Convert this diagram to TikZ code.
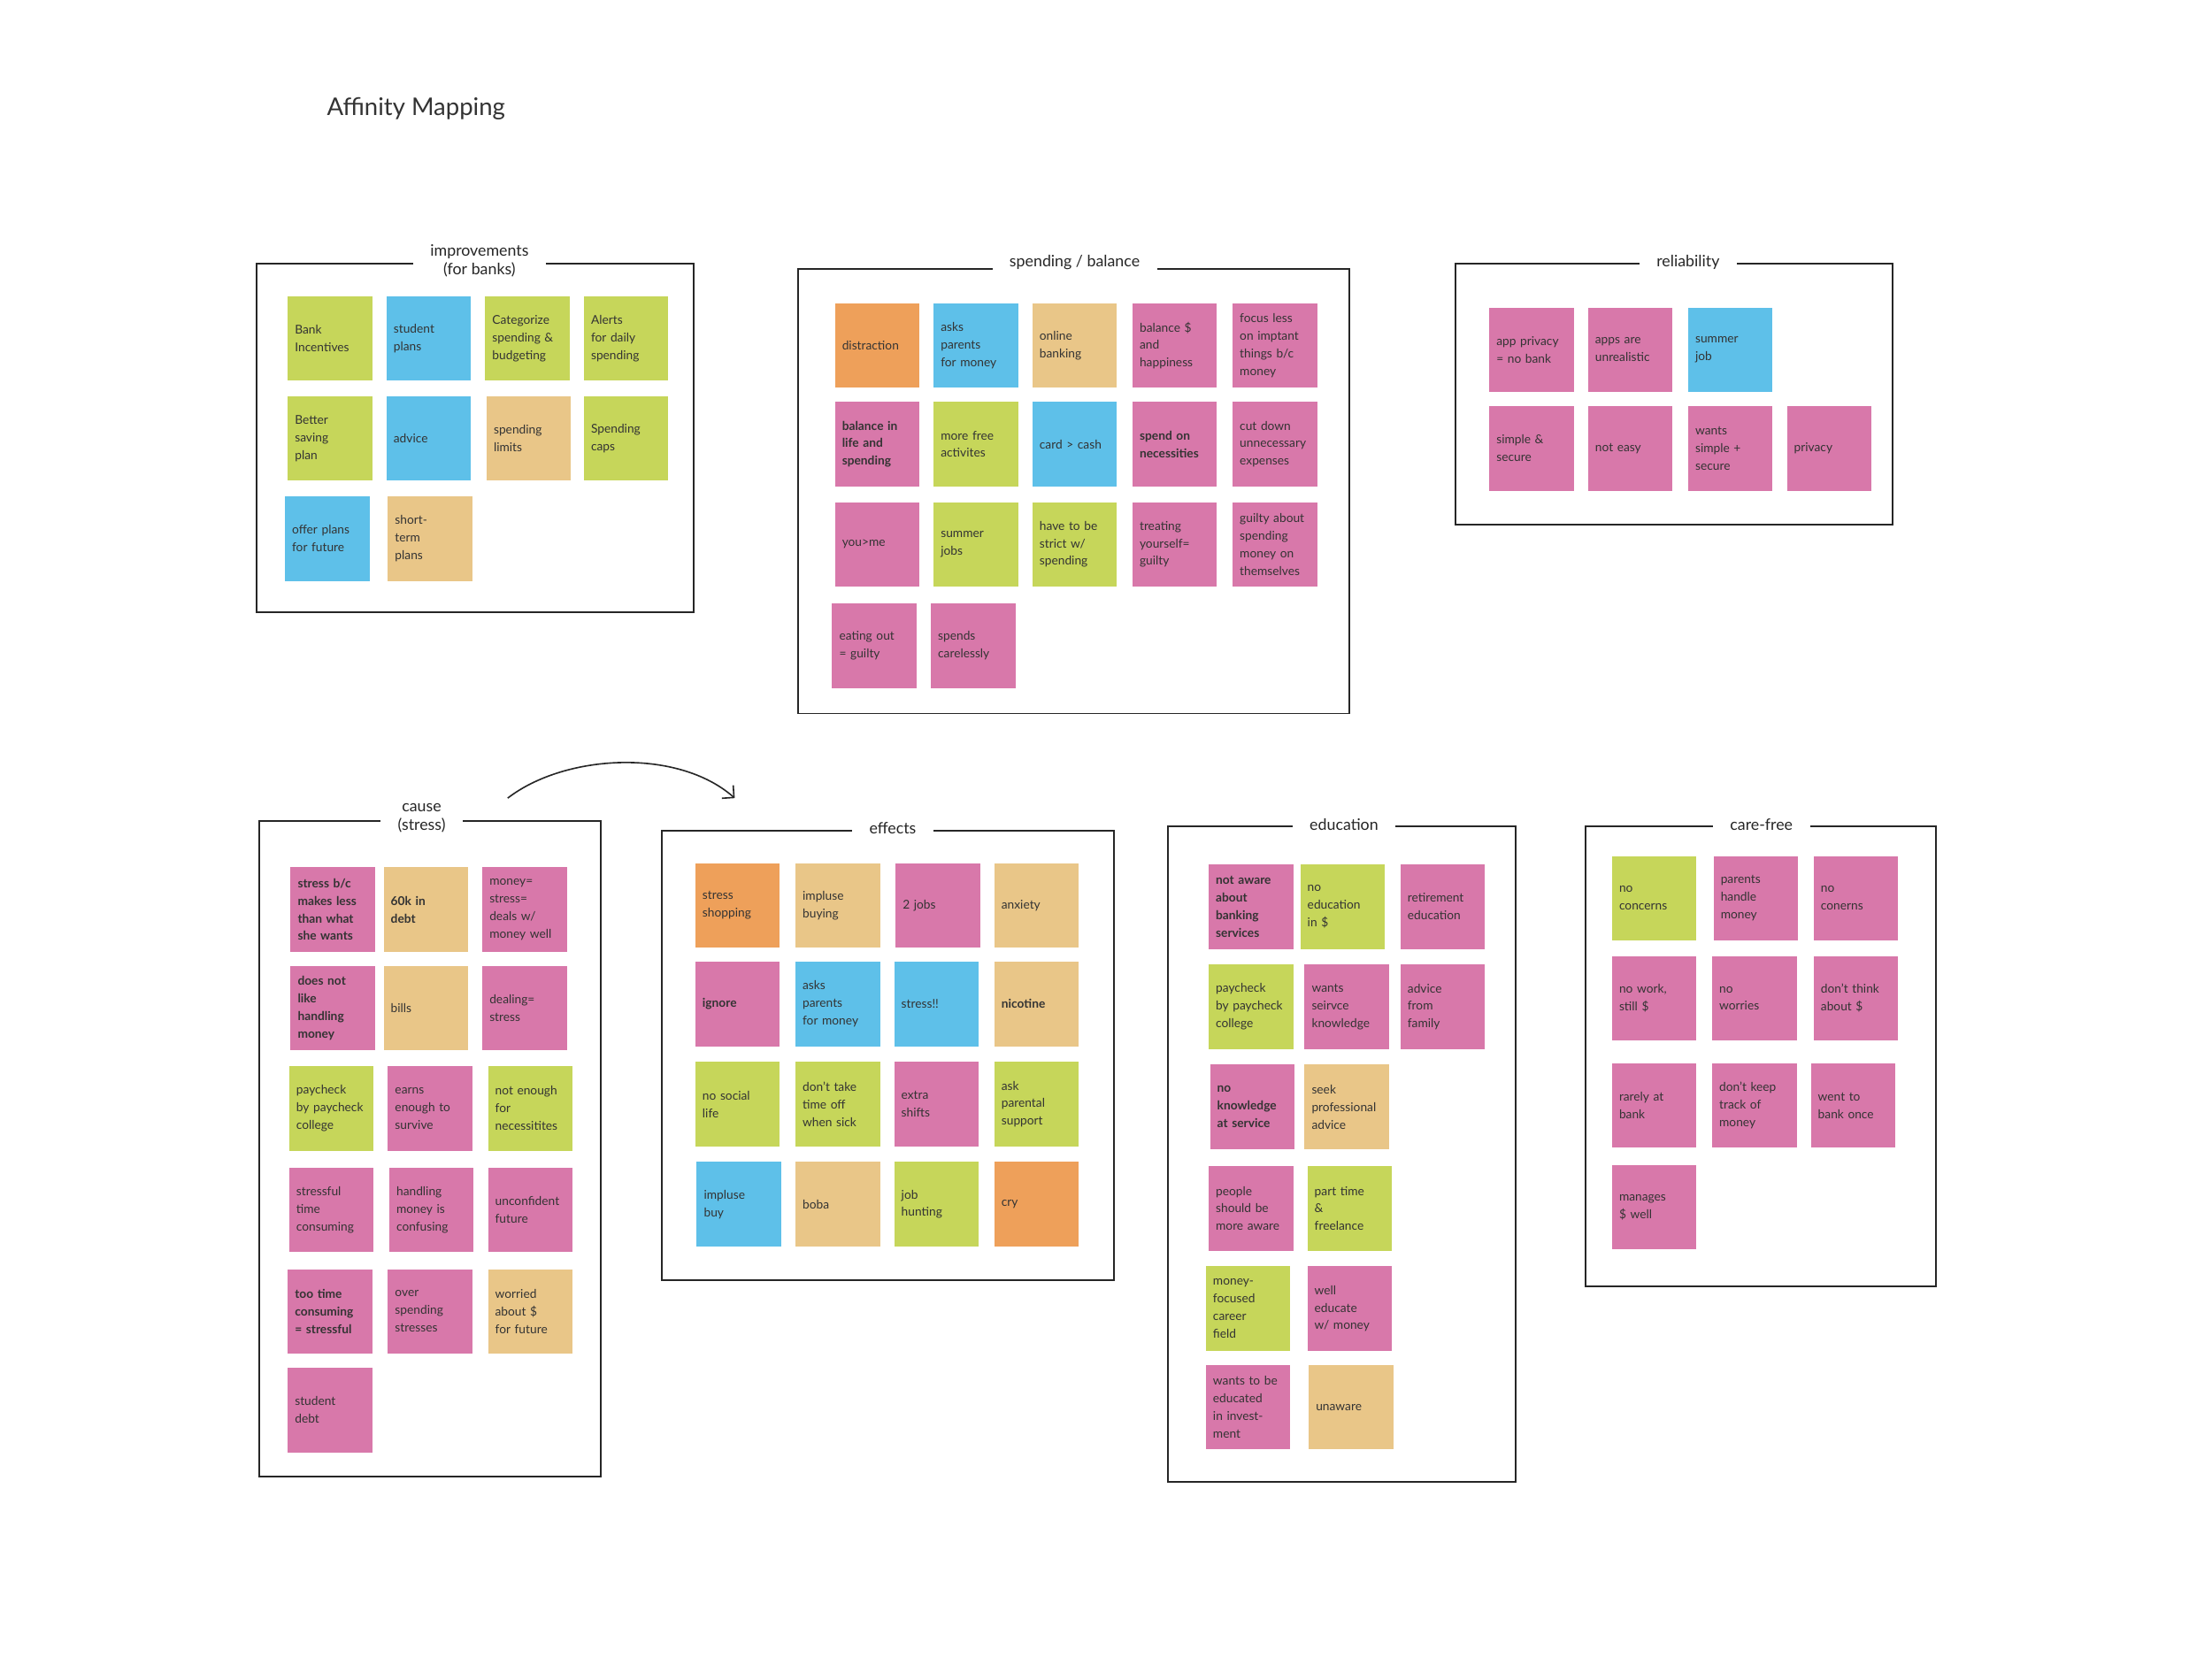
\documentclass[tikz,border=0pt]{standalone}
\usepackage{fontspec}
\setmainfont{Lato}
\usetikzlibrary{arrows.meta}
\definecolor{pk}{HTML}{D878AA}
\definecolor{gr}{HTML}{C6D65A}
\definecolor{bl}{HTML}{5EC0E9}
\definecolor{tn}{HTML}{E9C688}
\definecolor{og}{HTML}{EEA05A}
\newcommand\nohyph{\hyphenpenalty=10000\relax\exhyphenpenalty=10000\relax}
\tikzset{
  note/.style={minimum width=59pt,minimum height=59pt,inner sep=0pt,text width=49pt,align=left,font=\fontsize{8.5}{12.3}\selectfont\nohyph,text=black!80},
  frame/.style={draw=black!85,line width=1.2pt},
  ttl/.style={fill=white,inner xsep=12pt,inner ysep=1pt,align=center,font=\fontsize{11}{13}\selectfont,text=black!85},
  arc/.style={draw=black!85,line width=1pt,-{Straight Barb[length=6pt]}}
}
\newcommand\nt[5]{\node[note,fill=#2] (#1) at (#3,#4) {#5};}
\begin{document}
\begin{tikzpicture}[x=0.985pt,y=-0.985pt]
\useasboundingbox (0,0) rectangle (1568.5,1180.7);
\fill[white] (0,0) rectangle (1568.5,1180.7);
\node[font=\fontsize{17}{20}\selectfont,text=black!80] (title) at (295,77) {Affinity Mapping};

% improvements
\draw[frame] (182,187) rectangle (492,434);
\node[ttl] (t1) at (340,185) {improvements\\(for banks)};
\nt{i1}{gr}{234}{240}{Bank\\Incentives}
\nt{i2}{bl}{304}{240}{student\\plans}
\nt{i3}{gr}{374}{240}{Categorize\\spending \&\\budgeting}
\nt{i4}{gr}{444}{240}{Alerts\\for daily\\spending}
\nt{i5}{gr}{234}{311}{Better\\saving\\plan}
\nt{i6}{bl}{304}{311}{\centering advice}
\nt{i7}{tn}{375}{311}{spending\\limits}
\nt{i8}{gr}{444}{311}{Spending\\caps}
\nt{i9}{bl}{232}{382}{offer plans\\for future}
\nt{i10}{tn}{305}{382}{short-\\term\\plans}

% spending / balance
\draw[frame] (566,191) rectangle (957,506);
\node[ttl] (t2) at (762,186) {spending / balance};
\nt{s1}{og}{622}{245}{distraction}
\nt{s2}{bl}{692}{245}{asks\\parents\\for money}
\nt{s3}{tn}{762}{245}{online\\banking}
\nt{s4}{pk}{833}{245}{balance \$\\and\\happiness}
\nt{s5}{pk}{904}{245}{focus less\\on imptant\\things b/c\\money}
\nt{s6}{pk}{622}{315}{\bfseries balance in\\life and\\spending}
\nt{s7}{gr}{692}{315}{more free\\activites}
\nt{s8}{bl}{762}{315}{card > cash}
\nt{s9}{pk}{833}{315}{\bfseries spend on\\necessities}
\nt{s10}{pk}{904}{315}{cut down\\unnecessary\\expenses}
\nt{s11}{pk}{622}{386}{you>me}
\nt{s12}{gr}{692}{386}{summer\\jobs}
\nt{s13}{gr}{762}{386}{have to be\\strict w/\\spending}
\nt{s14}{pk}{833}{386}{treating\\yourself=\\guilty}
\nt{s15}{pk}{904}{386}{guilty about\\spending\\money on\\themselves}
\nt{s16}{pk}{620}{458}{eating out\\= guilty}
\nt{s17}{pk}{690}{458}{spends\\carelessly}

% reliability
\draw[frame] (1032,187) rectangle (1342,372);
\node[ttl] (t3) at (1197,186) {reliability};
\nt{r1}{pk}{1086}{248}{app privacy\\= no bank}
\nt{r2}{pk}{1156}{248}{apps are\\unrealistic}
\nt{r3}{bl}{1227}{248}{summer\\job}
\nt{r4}{pk}{1086}{318}{simple \&\\secure}
\nt{r5}{pk}{1156}{318}{not easy}
\nt{r6}{pk}{1227}{318}{wants\\simple +\\secure}
\nt{r7}{pk}{1297}{318}{privacy}

% cause
\draw[frame] (184,582) rectangle (426,1047);
\node[ttl] (t4) at (299,580) {cause\\(stress)};
\nt{c1}{pk}{236}{645}{\bfseries stress b/c\\makes less\\than what\\she wants}
\nt{c2}{tn}{302}{645}{\bfseries 60k in\\debt}
\nt{c3}{pk}{372}{645}{money=\\stress=\\deals w/\\money well}
\nt{c4}{pk}{236}{715}{\bfseries does not\\like\\handling\\money}
\nt{c5}{tn}{302}{715}{bills}
\nt{c6}{pk}{372}{715}{dealing=\\stress}
\nt{c7}{gr}{235}{786}{paycheck\\by paycheck\\college}
\nt{c8}{pk}{305}{786}{earns\\enough to\\survive}
\nt{c9}{gr}{376}{786}{not enough\\for\\necessitites}
\nt{c10}{pk}{235}{858}{stressful\\time\\consuming}
\nt{c11}{pk}{306}{858}{handling\\money is\\confusing}
\nt{c12}{pk}{376}{858}{unconfident\\future}
\nt{c13}{pk}{234}{930}{\bfseries too time\\consuming\\= stressful}
\nt{c14}{pk}{305}{930}{over\\spending\\stresses}
\nt{c15}{tn}{376}{930}{worried\\about \$\\for future}
\nt{c16}{pk}{234}{1000}{student\\debt}

\coordinate (a1) at (360,566);
\coordinate (a2) at (521,566);
\draw[arc] (a1) .. controls (400,535) and (480,530) .. (a2);

% effects
\draw[frame] (469,589) rectangle (790,908);
\node[ttl] (t5) at (633,587) {effects};
\nt{e1}{og}{523}{642}{stress\\shopping}
\nt{e2}{tn}{594}{642}{impluse\\buying}
\nt{e3}{pk}{665}{642}{2 jobs}
\nt{e4}{tn}{735}{642}{anxiety}
\nt{e5}{pk}{523}{712}{\bfseries ignore}
\nt{e6}{bl}{594}{712}{asks\\parents\\for money}
\nt{e7}{bl}{664}{712}{stress!!}
\nt{e8}{tn}{735}{712}{\bfseries nicotine}
\nt{e9}{gr}{523}{783}{no social\\life}
\nt{e10}{gr}{594}{783}{don't take\\time off\\when sick}
\nt{e11}{pk}{664}{783}{extra\\shifts}
\nt{e12}{gr}{735}{783}{ask\\parental\\support}
\nt{e13}{bl}{524}{854}{impluse\\buy}
\nt{e14}{tn}{594}{854}{boba}
\nt{e15}{gr}{664}{854}{job\\hunting}
\nt{e16}{og}{735}{854}{cry}

% education
\draw[frame] (828,586) rectangle (1075,1051);
\node[ttl] (t6) at (953,585) {education};
\nt{d1}{pk}{887}{643}{\bfseries not aware\\about\\banking\\services}
\nt{d2}{gr}{952}{643}{no\\education\\in \$}
\nt{d3}{pk}{1023}{643}{retirement\\education}
\nt{d4}{gr}{887}{714}{paycheck\\by paycheck\\college}
\nt{d5}{pk}{955}{714}{wants\\seirvce\\knowledge}
\nt{d6}{pk}{1023}{714}{advice\\from\\family}
\nt{d7}{pk}{888}{785}{\bfseries no\\knowledge\\at service}
\nt{d8}{tn}{955}{785}{seek\\professional\\advice}
\nt{d9}{pk}{887}{857}{people\\should be\\more aware}
\nt{d10}{gr}{957}{857}{part time\\\&\\freelance}
\nt{d11}{gr}{885}{928}{money-\\focused\\career\\field}
\nt{d12}{pk}{957}{928}{well\\educate\\w/ money}
\nt{d13}{pk}{885}{998}{wants to be\\educated\\in invest-\\ment}
\nt{d14}{tn}{958}{998}{unaware}

% care-free
\draw[frame] (1124,586) rectangle (1373,912);
\node[ttl] (t7) at (1249,585) {care-free};
\nt{f1}{gr}{1173}{637}{no\\concerns}
\nt{f2}{pk}{1245}{637}{parents\\handle\\money}
\nt{f3}{pk}{1316}{637}{no\\conerns}
\nt{f4}{pk}{1173}{708}{no work,\\still \$}
\nt{f5}{pk}{1244}{708}{no\\worries}
\nt{f6}{pk}{1316}{708}{don't think\\about \$}
\nt{f7}{pk}{1173}{784}{rarely at\\bank}
\nt{f8}{pk}{1244}{784}{don't keep\\track of\\money}
\nt{f9}{pk}{1314}{784}{went to\\bank once}
\nt{f10}{pk}{1173}{856}{manages\\\$ well}
\end{tikzpicture}
\end{document}
